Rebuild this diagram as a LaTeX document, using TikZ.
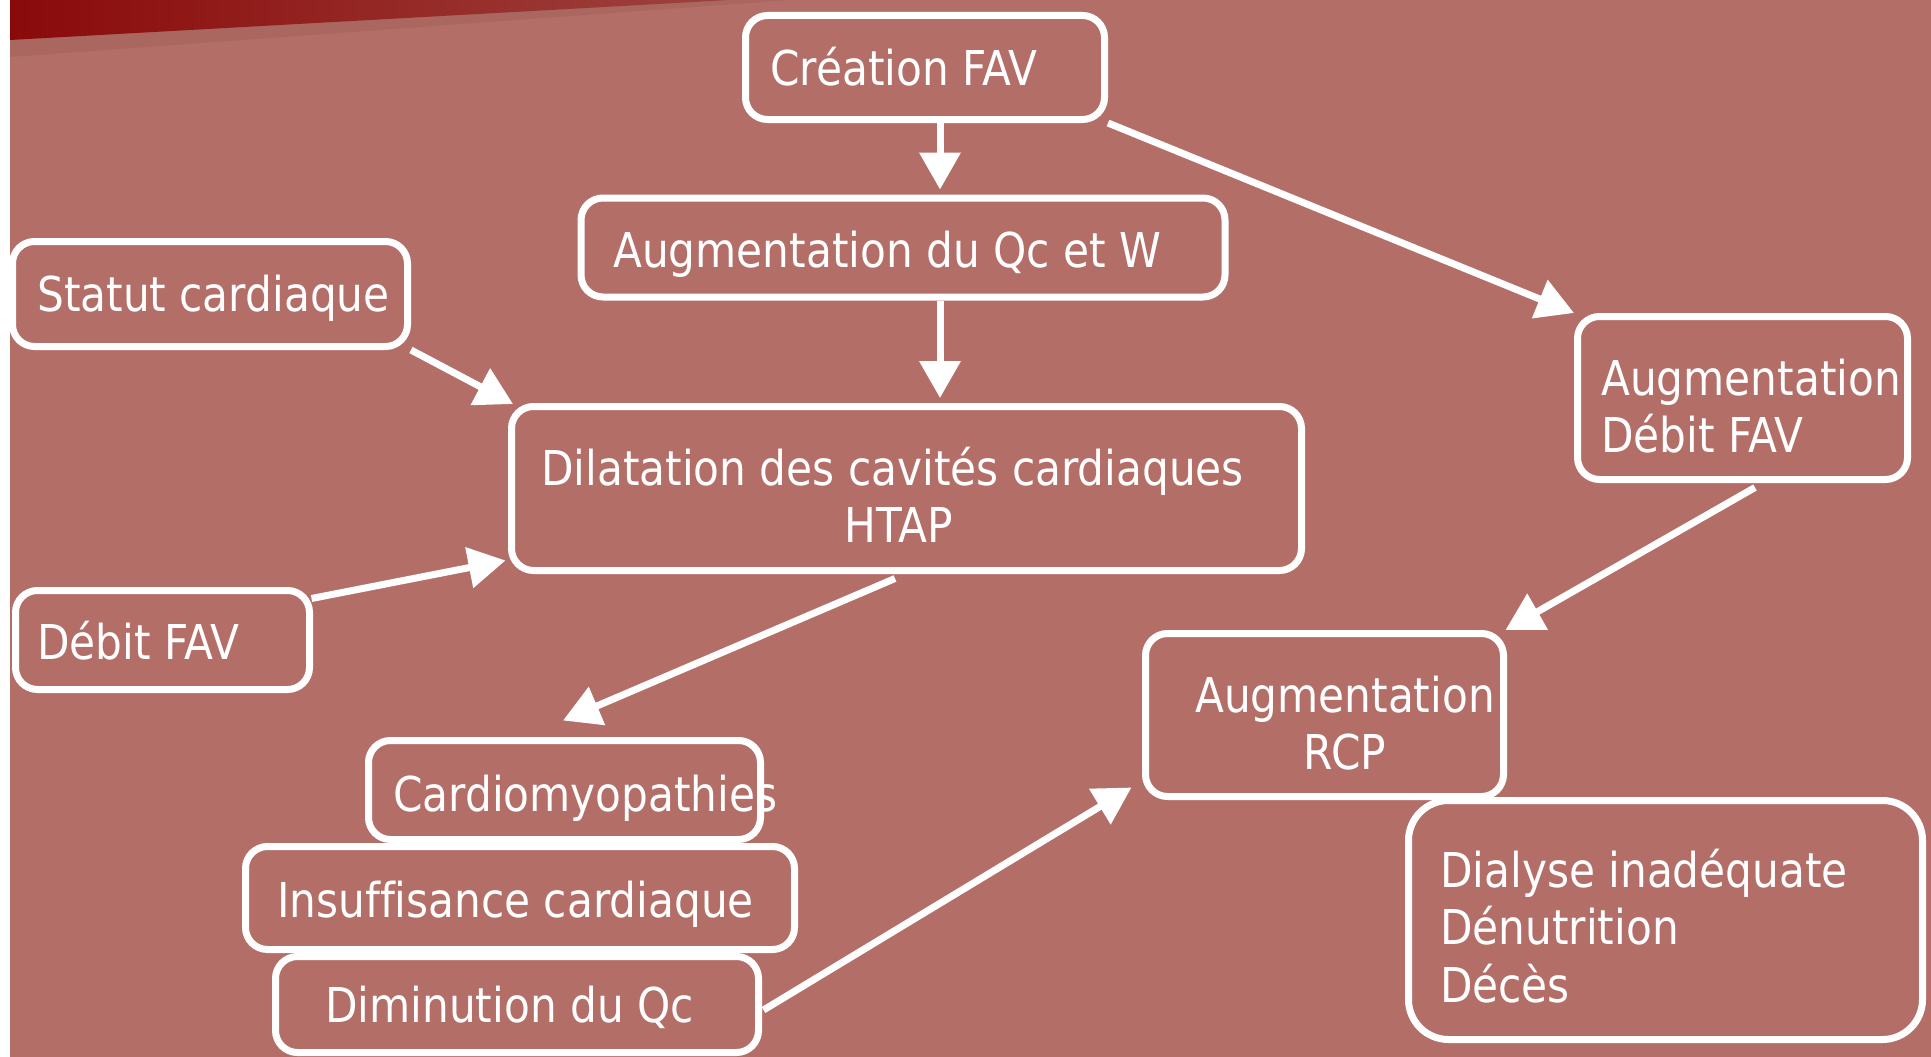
\documentclass[tikz,border=0pt]{standalone}
\usepackage{fontspec}
\setmainfont{DejaVu Sans}[FakeStretch=0.88, Ligatures=NoCommon]
\usetikzlibrary{arrows.meta,calc}
\definecolor{bgc}{HTML}{B46E68}
\definecolor{bandA}{HTML}{8A0A0A}
\definecolor{bandB}{HTML}{9E433E}
\definecolor{bandL}{HTML}{A9675F}
\begin{document}
\begin{tikzpicture}[x=1pt,y=-1pt,
  box/.style={draw=white, line width=7pt, rounded corners=22pt, inner sep=0pt},
  txt/.style={text=white, inner sep=0pt, font=\fontsize{48}{57.5}\selectfont},
  arr/.style={draw=white, line width=7pt, -{Triangle[length=37pt,width=40pt]}}]
\useasboundingbox (0,0) rectangle (1931,1057);
% background
\fill[white] (0,0) rectangle (1931,1057);
\fill[bgc] (10,0) rectangle (1931,1057);
\fill[bandL] (10,38) -- (10,57) -- (790,0) -- (730,0) -- cycle;
\shade[left color=bandA, right color=bandB] (10,0) -- (10,40) -- (730,0) -- cycle;
% boxes
\node[box, minimum width=359pt, minimum height=104pt] (creation) at (925,67.5) {};
\node[box, minimum width=644pt, minimum height=99pt] (augqc) at (903,247.5) {};
\node[box, minimum width=395pt, minimum height=105pt] (statut) at (210,294) {};
\node[box, minimum width=790pt, minimum height=164pt] (dil) at (906.5,488.5) {};
\node[box, minimum width=294pt, minimum height=99pt] (debit) at (162.5,640) {};
\node[box, minimum width=330pt, minimum height=163pt] (augdebit) at (1742.5,398) {};
\node[box, minimum width=358pt, minimum height=163pt] (rcp) at (1324.5,715) {};
\node[box, rounded corners=40pt, minimum width=514pt, minimum height=239pt] (dialyse) at (1665.5,920) {};
\node[box, minimum width=392pt, minimum height=99pt] (cardio) at (564.5,790) {};
\node[box, minimum width=549pt, minimum height=103pt] (insuff) at (520,898) {};
\node[box, minimum width=483pt, minimum height=96pt] (dimin) at (517,1004.5) {};
% texts
\node[txt, anchor=base west] (creation-t) at (770,85) {Création FAV};
\node[txt, anchor=base west] (augqc-t) at (613,267) {Augmentation du Qc et W};
\node[txt, anchor=base west] (statut-t) at (37,311) {Statut cardiaque};
\node[txt, anchor=base] (dil-t) at (899,485) {\begin{tabular}[t]{@{}c@{}}Dilatation des cavités cardiaques\hspace*{13pt}\\HTAP\end{tabular}};
\node[txt, anchor=base west] (debit-t) at (37,659) {Débit FAV};
\node[txt, anchor=base west] (augdebit-t) at (1601,395) {\begin{tabular}[t]{@{}l@{}}Augmentation\\Débit FAV\end{tabular}};
\node[txt, anchor=base] (rcp-t) at (1345,712) {\begin{tabular}[t]{@{}c@{}}Augmentation\\RCP\end{tabular}};
\node[txt, anchor=base west] (dialyse-t) at (1440,887) {\begin{tabular}[t]{@{}l@{}}Dialyse inadéquate\\Dénutrition\\Décès\end{tabular}};
\node[txt, anchor=base west] (cardio-t) at (393,811) {Cardiomyopathies};
\node[txt, anchor=base west] (insuff-t) at (277,917) {Insuffisance cardiaque};
\node[txt, anchor=base west] (dimin-t) at (325,1022) {Diminution du Qc};
% connectors
\coordinate (ax) at (940,0);
\draw[arr] (creation.south -| ax) -- ($(augqc.north -| ax)+(0,-5)$);
\draw[arr] (augqc.south -| ax) -- ($(dil.north -| ax)+(0,-5)$);
\draw[arr] (creation.south east) -- (augdebit.north west);
\draw[arr] (statut.south east) -- ($(dil.north west)+(5,1)$);
\draw[arr] ($(debit.north east)+(-1.5,11.5)$) -- ($(dil.south west)+(-2.5,-13.5)$);
\draw[arr] ($(dil.south)+(-11.5,4.5)$) -- ($(cardio.north)+(-1.5,-16.5)$);
\draw[arr] ($(augdebit.south)+(12.5,4.5)$) -- ($(rcp.north east)+(-1.5,0)$);
\draw[arr] ($(dimin.east)+(1.5,5.5)$) -- ($(rcp.south west)+(-10.5,-12.5)$);
\end{tikzpicture}
\end{document}
